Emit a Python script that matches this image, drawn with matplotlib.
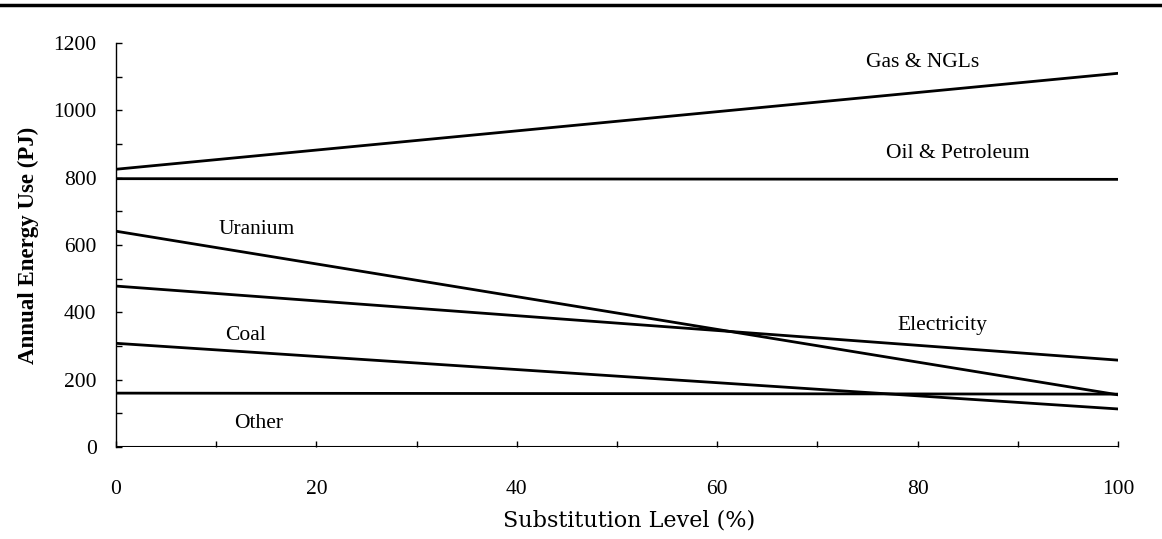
import matplotlib.pyplot as plt
from matplotlib.ticker import MultipleLocator
from matplotlib.lines import Line2D

plt.rcParams['font.family'] = ['Liberation Serif', 'DejaVu Serif']

# substitution level (%) and annual energy use (PJ) per fuel
level = [0, 100]
gas = [825, 1110]
oil = [797, 795]
uranium = [641, 155]
electricity = [478, 258]
coal = [308, 113]
other = [160, 157]

fig = plt.figure(figsize=(11.62, 5.39), dpi=100)
ax = fig.add_axes([0.0998, 0.1707, 0.8623, 0.7495])

for series in [gas, oil, uranium, electricity, coal, other]:
    ax.plot(level, series, color="black", linewidth=2)

# baseline at zero
ax.plot([0, 100], [0, 0], color="black", linewidth=1.5)

labels = {
    "Gas & NGLs": (80.5, 1143),
    "Oil & Petroleum": (84, 873),
    "Uranium": (14, 645),
    "Electricity": (82.5, 362),
    "Coal": (12.9, 330),
    "Other": (14.2, 71),
}
for text, (x, y) in labels.items():
    ax.text(x, y, text, ha="center", va="center", fontsize=15.5)

ax.set_xlim(0, 100)
ax.set_ylim(0, 1200)
ax.spines["top"].set_visible(False)
ax.spines["right"].set_visible(False)
ax.spines["bottom"].set_visible(False)
ax.spines["left"].set_linewidth(1)

ax.xaxis.set_major_locator(MultipleLocator(20))
ax.xaxis.set_minor_locator(MultipleLocator(10))
ax.yaxis.set_major_locator(MultipleLocator(200))
ax.yaxis.set_minor_locator(MultipleLocator(100))
ax.tick_params(axis="both", which="both", direction="in", length=4, width=1, labelsize=15.5)
ax.tick_params(axis="x", which="major", pad=24)
ax.tick_params(axis="y", which="major", pad=14)

ax.set_xlabel("Substitution Level (%)", fontsize=16, family="DejaVu Serif")
ax.xaxis.set_label_coords(0.512, -0.155)
ax.set_ylabel("Annual Energy Use (PJ)", fontsize=16.5, fontweight="bold", labelpad=10)

# rule across the top of the page
fig.add_artist(Line2D([0, 1], [0.99, 0.99], color="black", linewidth=2.5, transform=fig.transFigure))

plt.savefig("out.png", dpi=100)
plt.close()
